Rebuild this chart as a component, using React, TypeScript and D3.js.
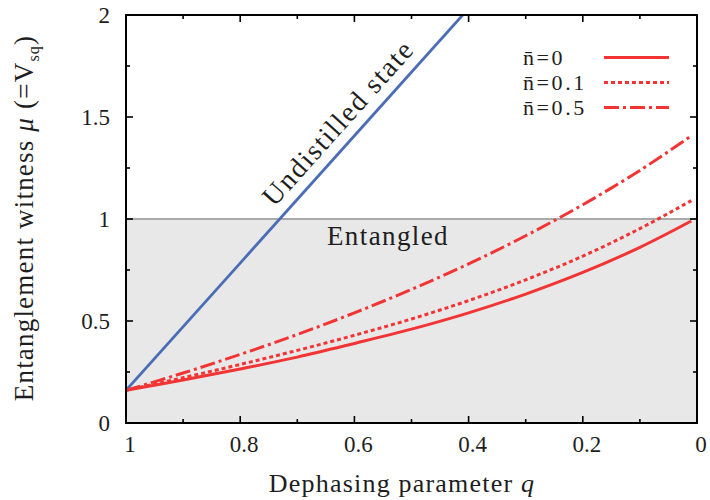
import React from "react";
import * as d3 from "d3";

const qValues = [1, 0.9, 0.8, 0.7, 0.6, 0.5, 0.4, 0.3, 0.2, 0.1, 0.01];
const seriesN0 = [0.16, 0.211, 0.265, 0.323, 0.39, 0.46, 0.54, 0.632, 0.738, 0.861, 0.99];
const seriesN01 = [0.16, 0.222, 0.287, 0.356, 0.43, 0.51, 0.6, 0.702, 0.818, 0.953, 1.09];
const seriesN05 = [0.16, 0.245, 0.336, 0.434, 0.54, 0.655, 0.78, 0.918, 1.07, 1.238, 1.408];
const undistilledQ = [1, 0.8, 0.6, 0.4];
const undistilledMu = [0.16, 0.784, 1.408, 2.032];
const xTicks = [1, 0.8, 0.6, 0.4, 0.2, 0];
const xTickLabels = ["1", "0.8", "0.6", "0.4", "0.2", "0"];
const xMinor = [0.9, 0.7, 0.5, 0.3, 0.1];
const yTicks = [0, 0.5, 1, 1.5, 2];
const yTickLabels = ["0", "0.5", "1", "1.5", "2"];
const yMinor = [0.25, 0.75, 1.25, 1.75];
const legendLabels = ["n\u0304=0", "n\u0304=0.1", "n\u0304=0.5"];

const RED = "#f23434";
const BLUE = "#4a6db5";
const FONT = "'Liberation Serif', 'Times New Roman', serif";
const TXT = "#1e1e1e";

export default function App() {
  const left = 126, right = 697, top = 15, bottom = 423;
  const x = d3.scaleLinear().domain([1, 0]).range([left, right]);
  const y = d3.scaleLinear().domain([0, 2]).range([bottom, top]);

  const line = d3
    .line<[number, number]>()
    .x((d) => x(d[0]))
    .y((d) => y(d[1]))
    .curve(d3.curveCatmullRom);

  const mk = (vals: number[]) => qValues.map((q, i) => [q, vals[i]] as [number, number]);
  const blueLine = d3
    .line<[number, number]>()
    .x((d) => x(d[0]))
    .y((d) => y(d[1]));
  const bluePts = undistilledQ.map((q, i) => [q, undistilledMu[i]] as [number, number]);

  const styles = [{ dash: "none" }, { dash: "4,3" }, { dash: "15,4,3,4" }];
  const series = [seriesN0, seriesN01, seriesN05];

  const angle = (Math.atan2(y(2.032) - y(0.16), x(0.4) - x(1)) * 180) / Math.PI;

  return (
    <svg
      width={710}
      height={500}
      style={{ position: "absolute", left: 0, top: 0, background: "#fff" }}
      fontFamily={FONT}
    >
      <defs>
        <clipPath id="plot">
          <rect x={left} y={top} width={right - left} height={bottom - top} />
        </clipPath>
      </defs>
      <rect x={left} y={y(1)} width={right - left} height={bottom - y(1)} fill="#e8e8e8" />
      <line x1={left} x2={right} y1={y(1)} y2={y(1)} stroke="#aaaaaa" strokeWidth={2} />
      <text x={388} y={245} fontSize={27} letterSpacing={1.4} textAnchor="middle" fill={TXT}>
        Entangled
      </text>

      <g clipPath="url(#plot)">
        <path d={blueLine(bluePts) || ""} fill="none" stroke={BLUE} strokeWidth={2.8} />
        {series.map((s, i) => (
          <path
            key={i}
            d={line(mk(s)) || ""}
            fill="none"
            stroke={RED}
            strokeWidth={3}
            strokeDasharray={styles[i].dash}
          />
        ))}
      </g>

      <text
        transform={`translate(345,129) rotate(${angle})`}
        fontSize={28}
        letterSpacing={1.7}
        textAnchor="middle"
        fill={TXT}
      >
        Undistilled state
      </text>

      <rect x={left} y={top} width={right - left} height={bottom - top} fill="none" stroke="#000" strokeWidth={2} />
      {xTicks.map((t) => (
        <g key={"xt" + t}>
          <line x1={x(t)} x2={x(t)} y1={bottom} y2={bottom - 7} stroke="#000" strokeWidth={1.6} />
          <line x1={x(t)} x2={x(t)} y1={top} y2={top + 7} stroke="#000" strokeWidth={1.6} />
        </g>
      ))}
      {xMinor.map((t) => (
        <g key={"xm" + t}>
          <line x1={x(t)} x2={x(t)} y1={bottom} y2={bottom - 4} stroke="#000" strokeWidth={1.6} />
          <line x1={x(t)} x2={x(t)} y1={top} y2={top + 4} stroke="#000" strokeWidth={1.6} />
        </g>
      ))}
      {yTicks.map((t) => (
        <g key={"yt" + t}>
          <line x1={left} x2={left + 7} y1={y(t)} y2={y(t)} stroke="#000" strokeWidth={1.6} />
          <line x1={right} x2={right - 7} y1={y(t)} y2={y(t)} stroke="#000" strokeWidth={1.6} />
        </g>
      ))}
      {yMinor.map((t) => (
        <g key={"ym" + t}>
          <line x1={left} x2={left + 4} y1={y(t)} y2={y(t)} stroke="#000" strokeWidth={1.6} />
          <line x1={right} x2={right - 4} y1={y(t)} y2={y(t)} stroke="#000" strokeWidth={1.6} />
        </g>
      ))}
      {xTicks.map((t, i) => (
        <text key={"xl" + t} x={x(t) + 4} y={452} fontSize={23} textAnchor="middle" fill={TXT}>
          {xTickLabels[i]}
        </text>
      ))}
      {yTicks.map((t, i) => (
        <text key={"yl" + t} x={110} y={y(t) + 8} fontSize={23} textAnchor="end" fill={TXT}>
          {yTickLabels[i]}
        </text>
      ))}

      <text x={402} y={492} fontSize={26} letterSpacing={1.2} textAnchor="middle" fill={TXT}>
        Dephasing parameter <tspan fontStyle="italic">q</tspan>
      </text>
      <text
        transform="translate(33,218) rotate(-90)"
        fontSize={27}
        letterSpacing={1.2}
        textAnchor="middle"
        fill={TXT}
      >
        Entanglement witness <tspan fontStyle="italic">μ</tspan> (=V
        <tspan fontSize={16} dy={6}>sq</tspan>
        <tspan dy={-6}>)</tspan>
      </text>

      {legendLabels.map((lab, i) => (
        <g key={lab}>
          <text x={523} y={57 + i * 25 + 8} fontSize={22} letterSpacing={2.6} fill={TXT}>
            {lab}
          </text>
          <line
            x1={604}
            x2={669}
            y1={57.5 + i * 25}
            y2={57.5 + i * 25}
            stroke={RED}
            strokeWidth={3}
            strokeDasharray={styles[i].dash}
          />
        </g>
      ))}
    </svg>
  );
}
